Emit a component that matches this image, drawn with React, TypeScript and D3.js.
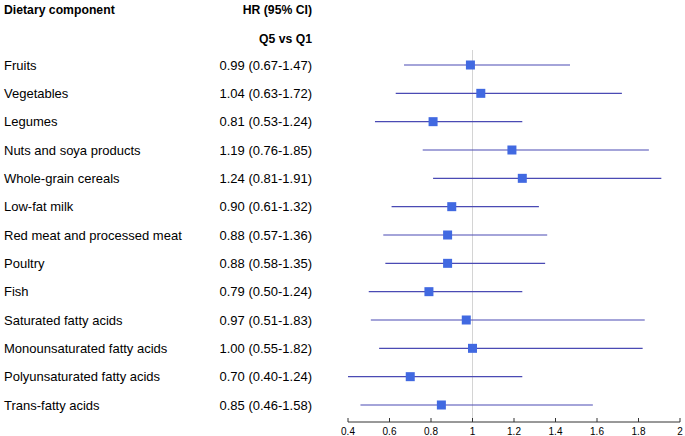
import React, { useRef, useEffect } from "react";
import * as d3 from "d3";

const components = [
  "Fruits",
  "Vegetables",
  "Legumes",
  "Nuts and soya products",
  "Whole-grain cereals",
  "Low-fat milk",
  "Red meat and processed meat",
  "Poultry",
  "Fish",
  "Saturated fatty acids",
  "Monounsaturated fatty acids",
  "Polyunsaturated fatty acids",
  "Trans-fatty acids",
];
const hr = [0.99, 1.04, 0.81, 1.19, 1.24, 0.9, 0.88, 0.88, 0.79, 0.97, 1.0, 0.7, 0.85];
const lower = [0.67, 0.63, 0.53, 0.76, 0.81, 0.61, 0.57, 0.58, 0.5, 0.51, 0.55, 0.4, 0.46];
const upper = [1.47, 1.72, 1.24, 1.85, 1.91, 1.32, 1.36, 1.35, 1.24, 1.83, 1.82, 1.24, 1.58];
const xTicks = [0.4, 0.6, 0.8, 1, 1.2, 1.4, 1.6, 1.8, 2];

const W = 685;
const H = 436;
const FONT = "'Liberation Sans', Arial, sans-serif";

export default function App() {
  const svgRef = useRef<SVGSVGElement>(null);

  useEffect(() => {
    if (!svgRef.current) return;
    const svg = d3.select(svgRef.current);
    svg.selectAll("*").remove();

    const rows = components.map((name, i) => ({
      name,
      hr: hr[i],
      lo: lower[i],
      hi: upper[i],
    }));

    const x = d3.scaleLinear().domain([0.4, 2]).range([348, 680]);
    const y = d3.scalePoint<string>().domain(components).range([65, 405]);
    const axisY = 422;

    // headers (bold, slightly narrow)
    const header = (txt: string, xp: number, yp: number, anchor: string) =>
      svg
        .append("g")
        .attr("transform", `translate(${xp},${yp}) scale(0.92,1)`)
        .append("text")
        .attr("text-anchor", anchor)
        .attr("dominant-baseline", "central")
        .attr("font-weight", "bold")
        .attr("font-size", "13.3px")
        .text(txt);
    header("Dietary component", 4, 9, "start");
    header("HR (95% CI)", 312, 9, "end");
    header("Q5 vs Q1", 312, 38, "end");

    // reference line at HR = 1
    svg
      .append("line")
      .attr("x1", x(1))
      .attr("x2", x(1))
      .attr("y1", 50)
      .attr("y2", axisY)
      .attr("stroke", "#d4d4d4")
      .attr("stroke-width", 1);

    const g = svg.selectAll(".row").data(rows).enter().append("g").attr("class", "row");

    g.append("text")
      .attr("x", 4)
      .attr("y", (d) => y(d.name)!)
      .attr("dominant-baseline", "central")
      .attr("font-size", "13px")
      .text((d) => d.name);

    g.append("text")
      .attr("x", 312)
      .attr("y", (d) => y(d.name)!)
      .attr("text-anchor", "end")
      .attr("dominant-baseline", "central")
      .attr("font-size", "13px")
      .text((d) => `${d.hr.toFixed(2)} (${d.lo.toFixed(2)}-${d.hi.toFixed(2)})`);

    g.append("line")
      .attr("x1", (d) => x(d.lo))
      .attr("x2", (d) => x(d.hi))
      .attr("y1", (d) => y(d.name)!)
      .attr("y2", (d) => y(d.name)!)
      .attr("stroke", "#4a4ab4")
      .attr("stroke-width", 1.2);

    g.append("rect")
      .attr("x", (d) => x(d.hr) - 4.5)
      .attr("y", (d) => y(d.name)! - 4.5)
      .attr("width", 9)
      .attr("height", 9)
      .attr("fill", "#4169e1");

    // x axis
    const axis = svg.append("g").attr("transform", `translate(0,${axisY})`);
    axis
      .append("line")
      .attr("x1", x(0.4))
      .attr("x2", x(2))
      .attr("stroke", "#333")
      .attr("stroke-width", 1);
    axis
      .selectAll(".tick")
      .data(xTicks)
      .enter()
      .append("line")
      .attr("x1", (d) => x(d))
      .attr("x2", (d) => x(d))
      .attr("y1", -4)
      .attr("y2", 0)
      .attr("stroke", "#333");
    axis
      .selectAll(".lbl")
      .data(xTicks)
      .enter()
      .append("text")
      .attr("x", (d) => x(d))
      .attr("y", 9)
      .attr("text-anchor", "middle")
      .attr("dominant-baseline", "central")
      .attr("font-size", "10px")
      .text((d) => d3.format("~g")(d));
  }, []);

  return (
    <svg
      ref={svgRef}
      width={W}
      height={H}
      style={{ position: "absolute", left: 0, top: 0, background: "#fff", fontFamily: FONT }}
    />
  );
}
